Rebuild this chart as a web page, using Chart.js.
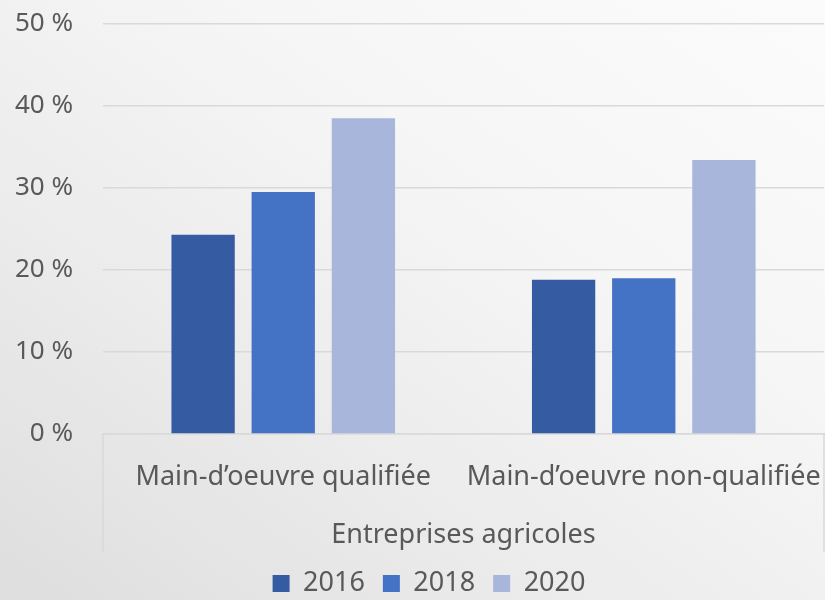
<!DOCTYPE html>
<html>
<head>
<meta charset="utf-8">
<script src="https://cdn.jsdelivr.net/npm/chart.js@4"></script>
<style>
  html, body { margin: 0; padding: 0; }
  body {
    width: 825px; height: 600px; overflow: hidden;
    background: linear-gradient(35deg, #dedede 0%, #ececec 35%, #f6f6f6 65%, #fbfbfb 100%);
  }
  #wrap { position: relative; width: 825px; height: 600px; }
</style>
</head>
<body>
<div id="wrap"><canvas id="chart" width="825" height="600"></canvas></div>
<script>
const categories = ['Main-d\u2019oeuvre qualifiée', 'Main-d\u2019oeuvre non-qualifiée'];
const groupLabel = 'Entreprises agricoles';
const years = ['2016', '2018', '2020'];
const values2016 = [24.3, 18.8];
const values2018 = [29.5, 19.0];
const values2020 = [38.5, 33.4];
const colors = ['#355ca3', '#4472c4', '#a8b6db'];

const FONT = '"Noto Sans", sans-serif';
const TEXT = '#595959';

// Excel-style frame around the category labels, legend nudged right
const categoryFrame = {
   id: 'categoryFrame',
   afterLayout(chart) {
      if (chart.legend) {
         chart.legend.left += 17;
         chart.legend.right += 17;
      }
   },
   afterDraw(chart) {
      const { ctx, chartArea } = chart;
      const bottom = chartArea.bottom + 118;
      ctx.save();
      ctx.strokeStyle = '#d9d9d9';
      ctx.lineWidth = 1.5;
      ctx.beginPath();
      ctx.moveTo(chartArea.left, chartArea.bottom);
      ctx.lineTo(chartArea.left, bottom);
      ctx.moveTo(chartArea.right, chartArea.bottom);
      ctx.lineTo(chartArea.right, bottom);
      ctx.stroke();
      ctx.restore();
   }
};

const ctx = document.getElementById('chart').getContext('2d');
new Chart(ctx, {
   type: 'bar',
   data: {
      labels: categories,
      datasets: [
         { label: years[0], data: values2016, backgroundColor: colors[0] },
         { label: years[1], data: values2018, backgroundColor: colors[1] },
         { label: years[2], data: values2020, backgroundColor: colors[2] },
      ],
   },
   options: {
      responsive: false,
      animation: false,
      devicePixelRatio: 1,
      categoryPercentage: 0.667,
      barPercentage: 0.79,
      layout: { padding: { top: 24, right: 1, left: 0, bottom: 0 } },
      plugins: {
         legend: {
            position: 'bottom',
            maxHeight: 48,
            labels: {
               color: TEXT,
               font: { family: FONT, size: 27 },
               boxWidth: 17,
               boxHeight: 17,
               padding: 18,
            },
         },
         tooltip: { enabled: false },
      },
      scales: {
         x: {
            grid: { display: false, drawTicks: false },
            border: { display: true, color: '#d9d9d9', width: 1.5 },
            ticks: {
               color: TEXT,
               font: { family: FONT, size: 27 },
               padding: 27,
               maxRotation: 0,
               autoSkip: false,
            },
            title: {
               display: true,
               text: groupLabel,
               color: TEXT,
               font: { family: FONT, size: 27 },
               padding: { top: 20, bottom: 0 },
            },
            afterFit(scale) {
               scale.height = 118;
               scale.paddingLeft = 0;
               scale.paddingRight = 0;
            },
         },
         y: {
            min: 0,
            max: 50,
            ticks: {
               stepSize: 10,
               color: TEXT,
               font: { family: FONT, size: 26 },
               padding: 30,
               callback: (v) => v + ' %',
            },
            grid: { color: '#d9d9d9', lineWidth: 1.5, drawTicks: false },
            border: { display: false },
            afterFit(scale) {
               scale.width = 103;
               scale.paddingTop = 0;
               scale.paddingBottom = 0;
            },
         },
      },
   },
   plugins: [categoryFrame],
});
</script>
</body>
</html>
